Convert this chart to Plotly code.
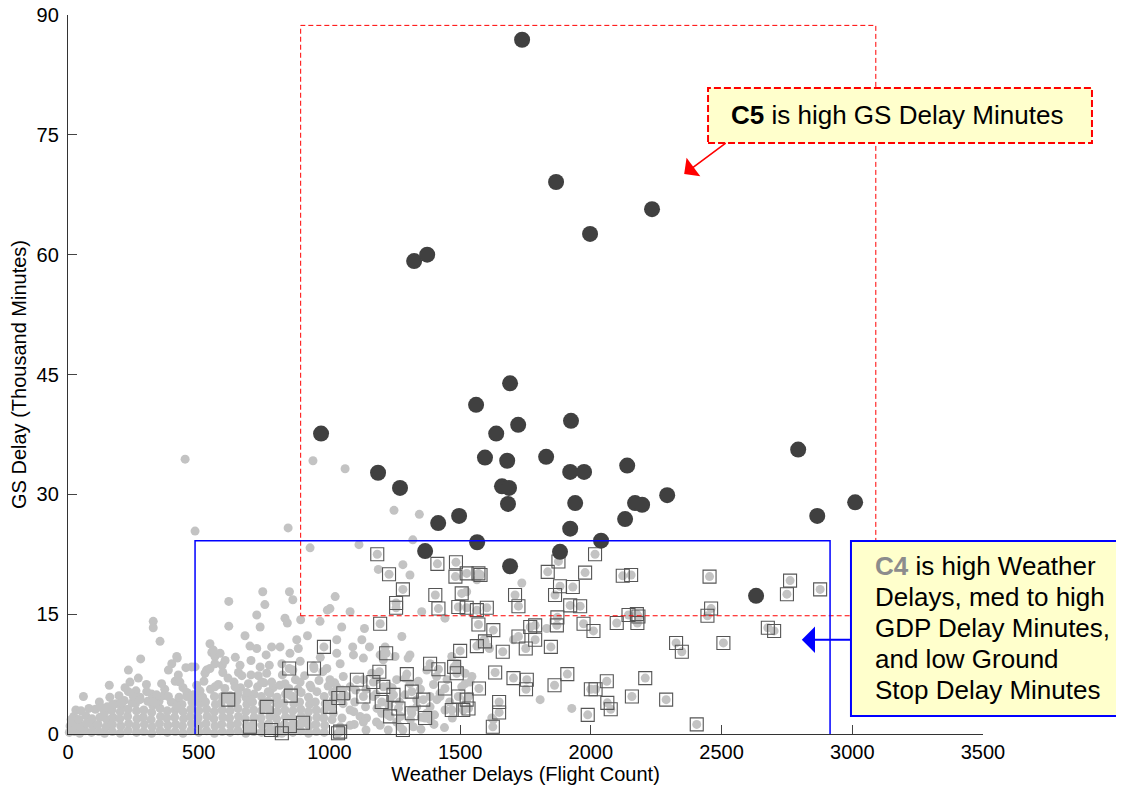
import plotly.graph_objects as go

# ---------------- data ----------------
# C5 cluster: high GS delay (dark dots)
c5_pts = [
    (1737, 86.9), (1867, 69.1), (2234, 65.7), (1997, 62.6), (1324, 59.2), (1374, 60.0),
    (1691, 43.9), (1561, 41.2), (968, 37.6), (1638, 37.6), (1722, 38.7), (1924, 39.2),
    (2793, 35.6), (1595, 34.6), (1829, 34.7), (1680, 34.2), (1186, 32.7), (1921, 32.8),
    (1974, 32.8), (2139, 33.6), (1270, 30.8), (1660, 31.0), (1687, 30.8), (1940, 28.9),
    (1683, 28.8), (2169, 28.9), (2196, 28.7), (2292, 29.9), (3011, 29.0), (2866, 27.3),
    (1416, 26.4), (1496, 27.3), (1921, 25.7), (2131, 26.9), (2039, 24.2), (1565, 24.0),
    (1366, 22.9), (1882, 22.8), (1691, 21.0), (2632, 17.3),
]

# C4 cluster: high weather delays (grey dots with square outline)
c4_pts = [
    (1183, 22.5), (1228, 20.0), (1281, 18.1), (1255, 16.4), (1255, 15.8), (1194, 13.8),
    (1413, 21.3), (1484, 21.5), (1482, 19.7), (1405, 17.4), (1417, 15.7), (1506, 17.6),
    (1493, 15.9), (1217, 10.1), (1500, 10.4), (1191, 7.8), (1296, 7.5), (1385, 8.8),
    (1417, 8.1), (1477, 8.4), (1487, 7.6), (1442, 5.7), (1105, 6.8), (1168, 6.5),
    (1206, 5.9), (1053, 5.1), (1130, 4.7), (1200, 4.0), (1245, 4.9), (1315, 5.3),
    (1359, 4.3), (1315, 2.6), (1366, 2.0), (1264, 3.2), (1232, 2.2), (1281, 0.5),
    (1468, 3.0), (1493, 4.7), (1041, 0.3),
    (2016, 22.5), (1835, 20.3), (1978, 20.2), (1570, 20.1), (1578, 19.9), (1525, 20.1),
    (1710, 17.4), (1723, 16.0), (1882, 18.5), (1931, 18.4), (1863, 17.4), (1921, 16.1),
    (1959, 16.0), (1525, 15.8), (1564, 15.5), (1602, 15.8), (1570, 13.7), (1627, 13.0),
    (1768, 13.4), (1787, 13.6), (1723, 12.2), (1787, 11.8), (1751, 10.7), (1872, 14.6),
    (1870, 13.6), (1972, 13.8), (2010, 12.9), (1847, 10.9), (1663, 10.3), (1564, 11.0),
    (1595, 11.6), (1634, 7.7), (1704, 7.0), (1755, 6.8), (1752, 5.6), (1861, 6.1),
    (1910, 7.5), (2000, 5.6), (2018, 5.6), (1572, 5.7), (1525, 4.3), (1532, 3.2),
    (1512, 3.0), (1649, 4.0), (1649, 2.7), (1625, 0.9), (1988, 2.4), (1876, 21.6),
    (2122, 19.8), (2154, 19.9), (2454, 19.7), (2762, 19.2), (2750, 17.5), (2877, 18.1),
    (2144, 14.9), (2176, 15.0), (2182, 14.7), (2178, 13.9), (2099, 13.9), (2460, 15.7),
    (2446, 14.8), (2677, 13.3), (2701, 12.9), (2326, 11.4), (2348, 10.3), (2507, 11.4),
    (2061, 6.6), (2208, 7.0), (2157, 4.7), (2288, 4.3), (2063, 3.9), (2076, 3.1),
    (2405, 1.2),
    (979, 10.9), (846, 8.2), (941, 8.2), (852, 4.8), (613, 4.3), (760, 3.4), (1002, 3.4),
    (818, 0.1), (1034, 4.5), (777, 0.5), (849, 1.0), (1033, 0.1), (696, 0.9), (899, 1.4),
]

# Other clusters: scattered grey dots
grey_scatter_pts = [
    (448, 34.4), (937, 34.2), (1060, 33.2), (486, 25.4), (842, 25.8), (926, 23.3),
    (1113, 23.7), (1247, 28.0), (1344, 27.5), (1319, 24.3),
    (1281, 21.2), (1308, 19.9), (1353, 15.3), (1442, 14.5), (1277, 12.2), (1736, 18.9),
    (1564, 19.3), (1525, 17.8), (1187, 20.6), (1022, 17.2), (1079, 15.3), (1047, 13.4),
    (1134, 13.2), (1002, 15.7),
    (1806, 4.3), (1927, 3.2), (1621, 2.0), (1831, 13.2), (1704, 11.8), (1612, 10.7),
    (1592, 11.8), (1545, 7.2), (1519, 6.3), (1532, 4.7), (1627, 1.8), (1576, 11.4),
    (1608, 10.9), (1468, 9.7), (1487, 8.8), (1500, 8.0), (1519, 7.6), (1538, 6.5),
    (1506, 5.9),
    (745, 17.8), (847, 17.8), (860, 16.8), (753, 16.2), (615, 16.6), (722, 14.9),
    (830, 14.5), (839, 13.9), (890, 14.3), (992, 15.5), (964, 14.1), (615, 13.5),
    (735, 13.4), (677, 12.3), (543, 11.3), (696, 11.0), (722, 10.7), (779, 10.9),
    (811, 10.9), (875, 11.8), (916, 12.3), (849, 10.1), (881, 10.7), (758, 9.9),
    (550, 10.2), (562, 9.7), (601, 9.2), (562, 8.8), (486, 8.4), (658, 8.6),
    (735, 8.4), (818, 8.8), (888, 9.1), (1028, 10.1), (524, 7.6), (592, 7.7),
    (652, 7.7), (665, 7.3), (728, 7.3), (779, 6.5), (741, 6.5), (830, 6.3),
    (888, 6.5), (926, 6.1), (492, 6.1), (562, 5.9), (639, 5.9), (684, 5.2),
    (766, 5.3), (798, 4.5),
    (1028, 11.8), (1089, 10.9), (1124, 11.8), (1153, 10.9), (1092, 9.9), (1130, 9.5),
    (1041, 8.8), (1206, 9.3), (1251, 9.7), (1308, 9.9), (1002, 6.8), (1053, 7.2),
    (1028, 5.9), (1079, 5.9), (1130, 6.8), (1162, 7.6), (1257, 6.8), (1372, 8.0),
    (1385, 4.7), (1423, 4.7), (1289, 4.9), (1334, 4.3), (1232, 4.3), (1168, 4.7),
    (1066, 4.7), (1015, 4.3), (1015, 2.6), (1079, 3.0), (1117, 2.2), (1200, 2.6),
    (1257, 1.5), (1194, 1.1), (1079, 1.1), (1372, 2.6), (1385, 1.8), (1041, 0.9),
    (1130, 1.5), (1321, 0.9), (1334, 3.4), (1213, 10.3), (1194, 9.9), (1301, 9.5),
    (1213, 10.9), (1385, 3.4), (1411, 4.3), (1423, 5.1),
    (326, 14.1), (326, 13.3), (352, 11.6), (278, 9.4), (231, 8.0), (158, 6.1),
    (59, 4.7), (129, 3.3), (171, 3.7), (218, 5.8), (237, 6.5), (269, 7.0),
    (231, 5.3), (250, 4.7), (301, 5.3), (339, 4.9), (358, 6.3), (397, 8.8),
    (418, 9.5), (384, 8.0), (422, 7.4), (428, 6.5), (451, 8.3), (473, 8.4),
    (205, 3.9), (275, 4.3), (326, 4.0), (384, 4.7), (454, 4.7), (416, 3.4),
    (416, 9.7), (543, 8.2), (582, 10.1), (556, 10.5),
]

# Other clusters: the dense grey band near the x axis
grey_band_pts = [
    (5, 0.2), (8, 1.0), (12, 1.8), (25, 0.3), (28, 1.2), (22, 2.2), (45, 0.1), (48, 0.9),
    (42, 1.8), (65, 0.4), (70, 1.3), (68, 2.3), (90, 0.2), (95, 1.0), (92, 1.9), (118, 0.3),
    (115, 1.2), (122, 2.1), (140, 0.1), (145, 0.9), (148, 1.8), (140, 2.7),
    (170, 0.3), (170, 1.2), (172, 2.1), (168, 3.0),
    (200, 0.1), (202, 1.0), (198, 1.9), (200, 2.8), (204, 3.6),
    (230, 0.4), (232, 1.3), (228, 2.2), (230, 3.1),
    (262, 0.2), (260, 1.0), (264, 1.9), (262, 2.9), (258, 3.8),
    (290, 0.3), (292, 1.2), (288, 2.1), (290, 3.0),
    (320, 0.1), (322, 0.9), (318, 1.8), (320, 2.7), (324, 3.6),
    (352, 0.4), (350, 1.3), (354, 2.2), (352, 3.2), (348, 4.1),
    (380, 0.2), (382, 1.1), (378, 2.0), (380, 2.9),
    (410, 0.3), (412, 1.2), (408, 2.1), (410, 3.0), (414, 3.9),
    (440, 0.1), (438, 1.0), (442, 1.9), (440, 2.8), (436, 3.7),
    (470, 0.4), (472, 1.3), (468, 2.2), (470, 3.1), (474, 4.0),
    (500, 0.2), (502, 1.1), (498, 2.0), (500, 2.9), (504, 3.8), (500, 4.6),
    (530, 0.4), (528, 1.3), (532, 2.2), (530, 3.1), (526, 4.0),
    (560, 0.1), (562, 1.0), (558, 1.9), (560, 2.8), (564, 3.7), (560, 4.7),
    (590, 0.3), (588, 1.2), (592, 2.1), (590, 3.0), (586, 3.9),
    (620, 0.2), (622, 1.1), (618, 2.0), (620, 2.9), (624, 3.8), (620, 4.8),
    (650, 0.4), (648, 1.3), (652, 2.2), (650, 3.2), (646, 4.2),
    (680, 0.1), (682, 1.0), (678, 1.9), (680, 2.8), (684, 3.7), (680, 4.6),
    (710, 0.3), (708, 1.2), (712, 2.1), (710, 3.0), (706, 4.0), (712, 5.0),
    (740, 0.2), (742, 1.1), (738, 2.0), (740, 2.9), (744, 3.8),
    (770, 0.4), (768, 1.3), (772, 2.2), (770, 3.1), (766, 4.1), (772, 5.1),
    (800, 0.1), (802, 1.0), (798, 1.9), (800, 2.8), (804, 3.7),
    (830, 0.3), (828, 1.2), (832, 2.1), (830, 3.0), (826, 3.9), (832, 5.0),
    (860, 0.2), (862, 1.1), (858, 2.0), (860, 2.9), (864, 3.8),
    (890, 0.4), (888, 1.3), (892, 2.2), (890, 3.1), (886, 4.0), (892, 5.2),
    (920, 0.1), (922, 1.0), (918, 1.9), (920, 2.8), (924, 3.7),
    (950, 0.3), (948, 1.2), (952, 2.1), (950, 3.0), (946, 4.0), (952, 5.3),
    (980, 0.2), (982, 1.1), (978, 2.0), (980, 2.9), (984, 3.8),
    (1010, 1.8), (1010, 3.5), (1012, 5.2), (1050, 0.4), (1048, 2.0), (1052, 3.8),
    (1050, 5.5), (1095, 1.2), (1093, 2.8), (1097, 4.0), (1140, 0.5), (1142, 2.0),
    (1138, 3.4), (1140, 5.6), (1180, 1.5), (1182, 3.2), (1178, 5.0), (1225, 0.5),
    (1223, 2.4), (1227, 3.6), (1225, 6.0), (1270, 0.9), (1272, 2.2), (1268, 4.0),
    (1310, 1.8), (1312, 3.0), (1308, 6.3), (1350, 0.6), (1352, 2.1), (1348, 5.6),
    (1400, 1.2), (1402, 2.4), (1398, 6.2), (1440, 0.8), (1442, 3.0),
]

# Other clusters: the looser layer just above the dense band
grey_band_top_pts = [
    (30, 3.0), (50, 2.9), (80, 3.2), (105, 3.1), (120, 4.0), (150, 3.4), (160, 4.6),
    (185, 3.8), (195, 4.8), (215, 4.2), (245, 3.9), (260, 5.4), (275, 4.6), (300, 6.2),
    (305, 4.1), (320, 5.0), (335, 3.9), (365, 4.8), (370, 5.6), (395, 4.0), (410, 6.6),
    (425, 4.6), (440, 5.8), (455, 5.2), (480, 4.9),
    (505, 5.4), (520, 6.6), (545, 5.6), (575, 6.2), (600, 5.7), (612, 7.0), (635, 6.5),
    (660, 5.8), (690, 6.3), (700, 7.4), (725, 5.9), (750, 6.4), (760, 7.6), (785, 5.8),
    (810, 6.1), (820, 7.4), (845, 5.7), (870, 6.8), (880, 5.6), (905, 7.3), (930, 5.8),
    (960, 6.7), (975, 7.8), (995, 6.0), (530, 8.0), (590, 8.6), (640, 9.6), (700, 9.2),
    (770, 8.6), (860, 8.0), (940, 8.5), (965, 9.6), (990, 8.2), (700, 4.3), (515, 4.6),
    (590, 4.7), (650, 5.0), (740, 4.7), (800, 4.6), (860, 4.7), (920, 4.6), (980, 4.7),
    (1020, 6.4), (1100, 5.5), (1180, 6.8), (1240, 5.8), (1290, 7.0), (1340, 6.6),
    (1410, 7.2), (1450, 6.8), (1460, 4.0), (1470, 2.0),
]

x_ticks = [0, 500, 1000, 1500, 2000, 2500, 3000, 3500]
y_ticks = [0, 15, 30, 45, 60, 75, 90]

# region boxes (data units)
c5_region = dict(x0=890, x1=3090, y0=14.8, y1=88.7)
c4_region = dict(x0=486, x1=2915, y0=-0.15, y1=24.2)

c5_text = "<b>C5</b> is high GS Delay Minutes"
c4_lines = [
    "<b><span style='color:#8c8c8c'>C4</span></b> is high Weather",
    "Delays, med to high",
    "GDP Delay Minutes,",
    "and low Ground",
    "Stop Delay Minutes",
]

# ---------------- figure ----------------
FONT = "Arial, Liberation Sans, Helvetica, sans-serif"
grey_pts = grey_band_pts + grey_band_top_pts + grey_scatter_pts

fig = go.Figure()
fig.add_trace(go.Scatter(
    x=[p[0] for p in grey_pts], y=[p[1] for p in grey_pts], mode="markers",
    marker=dict(color="#c3c3c3", size=9, line=dict(width=0)),
    cliponaxis=False, hoverinfo="skip"))
fig.add_trace(go.Scatter(
    x=[p[0] for p in c4_pts], y=[p[1] for p in c4_pts], mode="markers",
    marker=dict(color="#c3c3c3", size=9, line=dict(width=0)),
    cliponaxis=False, hoverinfo="skip"))
fig.add_trace(go.Scatter(
    x=[p[0] for p in c4_pts], y=[p[1] for p in c4_pts], mode="markers",
    marker=dict(symbol="square-open", color="#555555", size=13, line=dict(width=1.1)),
    cliponaxis=False, hoverinfo="skip"))
fig.add_trace(go.Scatter(
    x=[p[0] for p in c5_pts], y=[p[1] for p in c5_pts], mode="markers",
    marker=dict(color="#404040", size=16, line=dict(width=0)),
    cliponaxis=False, hoverinfo="skip"))

# cluster regions
fig.add_shape(type="rect", xref="x", yref="y", **c5_region,
              line=dict(color="#ff0000", width=1, dash="5px,3px"), layer="above")
fig.add_shape(type="rect", xref="x", yref="y", **c4_region,
              line=dict(color="#0000ff", width=1.5), layer="above")

# call-out boxes (paper coordinates, extending into the right margin)
fig.add_shape(type="rect", xref="paper", yref="paper", x0=0.6995, x1=1.1191, y0=0.822, y1=0.8985,
              fillcolor="#ffffcc", line=dict(color="#ff0000", width=2, dash="7px,3px"), layer="above")
fig.add_shape(type="rect", xref="paper", yref="paper", x0=0.8557, x1=1.1497, y0=0.025, y1=0.2684,
              fillcolor="#ffffcc", line=dict(color="#0000ff", width=2), layer="above")

fig.add_annotation(xref="paper", yref="paper", x=0.906, y=0.861, text=c5_text, showarrow=False,
                   xanchor="center", yanchor="middle", font=dict(family=FONT, size=26, color="black"))
line_y = [0.2337, 0.1905, 0.1474, 0.1043, 0.0612]
for txt, yy in zip(c4_lines, line_y):
    fig.add_annotation(xref="paper", yref="paper", x=0.8798, y=yy, text=txt, showarrow=False,
                       xanchor="left", yanchor="middle", font=dict(family=FONT, size=26, color="black"))

# arrows
fig.add_annotation(x=2357, y=70.1, xref="x", yref="y", text="", showarrow=True, ax=43, ay=-32,
                   arrowhead=1, arrowsize=2.4, arrowwidth=1.6, arrowcolor="#ff0000", standoff=0)
fig.add_annotation(x=2807, y=11.8, xref="x", yref="y", text="", showarrow=True, ax=50, ay=0,
                   arrowhead=1, arrowsize=2.0, arrowwidth=2.2, arrowcolor="#0000ff", standoff=0)

axis_common = dict(showgrid=False, zeroline=False, showline=True, linecolor="#333333", linewidth=1.3,
                   ticks="inside", ticklen=9, tickwidth=1.2, tickcolor="#444444", automargin=False,
                   ticklabeloverflow="allow",
                   tickfont=dict(family=FONT, size=20, color="black"))
fig.update_xaxes(range=[0, 3500], tickvals=x_ticks, ticktext=[str(v) for v in x_ticks],
                 title=dict(text="Weather Delays (Flight Count)", font=dict(family=FONT, size=20, color="black"),
                            standoff=4),
                 **axis_common)
fig.update_yaxes(range=[0, 90], tickvals=y_ticks, ticktext=[str(v) for v in y_ticks],
                 ticklabelstandoff=4,
                 title=dict(text="GS Delay (Thousand Minutes)", font=dict(family=FONT, size=20, color="black"),
                            standoff=4),
                 **axis_common)

# the page places the figure 8px from the top-left corner; size it so the plot area
# lands where the reference has it
fig.update_layout(width=1116, height=782, margin=dict(l=60, r=141, t=7, b=56, autoexpand=False),
                  paper_bgcolor="white", plot_bgcolor="white", showlegend=False,
                  font=dict(family=FONT, color="black"))

fig.write_html("out.html")
